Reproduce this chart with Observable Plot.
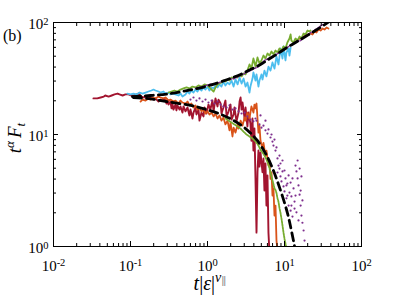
<!DOCTYPE html>
<html><head><meta charset="utf-8">
<script src="https://cdn.jsdelivr.net/npm/d3@7"></script>
<script src="https://cdn.jsdelivr.net/npm/@observablehq/plot@0.6"></script>
<style>body{margin:0;background:#fff;} svg{display:block} svg text{font-family:"Liberation Serif","DejaVu Serif",serif !important;}</style>
</head><body><div id="chart"></div>
<script>
// ---- data (x = t|eps|^nu, y = t^alpha F_t) ----
const redX = [0.033,0.037,0.041,0.045,0.047,0.052,0.057,0.062,0.068,0.072,0.079,0.086,0.094,0.103,0.109,0.120,0.127,0.139,0.148,0.161,0.171,0.182,0.199,0.211,0.231,0.245,0.261,0.276,0.294,0.303,0.312,0.330,0.341,0.351,0.361,0.384,0.395,0.407,0.433,0.446,0.473,0.488,0.518,0.550,0.583,0.601,0.638,0.658,0.698,0.719,0.764,0.787,0.836,0.887,0.914,0.970,1.03,1.09,1.16,1.20,1.27,1.35,1.39,1.48,1.52,1.61,1.71,1.77,1.88,1.99,2.05,2.18,2.24,2.38,2.53,2.61,2.69,2.77,2.85,3.03,3.12,3.30,3.41,3.61,3.72,3.84,3.95,4.07,4.20,4.33,4.46,4.59,4.73,4.88,5.18,5.33,5.49,5.66,5.83,6.01,6.19,6.38];
const redY = [21.0,21.0,21.4,21.8,22.3,21.8,22.3,22.8,23.2,22.8,22.3,22.8,22.8,22.3,22.3,22.8,23.2,21.8,21.4,21.8,21.0,21.4,20.5,21.0,19.7,20.5,20.1,21.0,18.9,20.5,18.5,19.7,17.1,18.9,16.7,18.5,16.4,18.2,16.7,17.8,15.7,17.8,16.1,17.4,14.8,16.7,13.9,15.7,17.4,15.1,16.7,13.3,15.7,14.5,17.4,15.4,18.5,16.7,20.1,16.1,21.0,17.8,20.5,18.9,15.4,17.4,20.1,14.5,16.1,18.5,13.6,15.1,17.4,13.1,15.7,19.7,21.4,16.7,19.3,13.9,17.4,11.8,15.7,12.5,8.8,13.9,7.19,11.3,4.01,1.33,4.6,7.19,5.17,6.9,4.6,6.11,3.16,5.51,2.32,4.31,1.33,0.88];

const orangeLowX = [0.135,0.143,0.157,0.171,0.182,0.193,0.211,0.231,0.245,0.268,0.285,0.312,0.330,0.361,0.384,0.420,0.446,0.473,0.518,0.550,0.583,0.619,0.658,0.698,0.741,0.787,0.836,0.887,0.942,1.0,1.06,1.13,1.20,1.27,1.35,1.43,1.52,1.61,1.71,1.82,1.93,1.99,2.11,2.18,2.31,2.46,2.53,2.69,2.85,3.03,3.12,3.30,3.51,3.72,3.95,4.07,4.20,4.33,4.46,4.59,4.73,4.88,5.18,5.33,5.66,5.83,6.19,6.38,6.58,6.78,6.98,7.19,7.41,7.64,7.87,8.11];
const orangeLowY = [19.7,20.5,20.1,21.0,20.5,21.4,21.0,21.8,21.4,21.0,21.4,20.1,20.5,19.7,20.1,18.9,20.1,19.3,18.9,19.7,18.2,18.9,17.4,18.2,16.7,17.4,16.1,16.7,15.4,16.1,15.1,15.7,14.5,15.4,13.9,14.8,13.3,14.2,12.3,13.3,10.9,12.8,9.6,11.5,10.4,12.3,11.3,13.3,12.0,14.2,13.3,15.7,13.9,17.8,15.7,18.5,17.1,18.9,13.9,10.4,12.0,8.8,7.5,8.4,6.49,7.19,5.28,5.86,4.01,4.6,2.85,3.3,1.89,2.32,1.13,0.92];
const orangeUpX = [14.3,15.7,17.1,18.75,20.5,21.8,23.1,24.5,26.0,27.6,29.4,31.2,33.1,35.1,37.2];
const orangeUpY = [69.0,72.0,73.5,76.6,78.2,79.8,78.2,83.1,81.5,86.6,84.8,88.4,86.6,90.2,88.4];

const cyanX = [0.091,0.100,0.109,0.120,0.131,0.143,0.157,0.171,0.187,0.199,0.211,0.231,0.245,0.268,0.285,0.312,0.330,0.351,0.384,0.420,0.446,0.473,0.518,0.550,0.583,0.619,0.658,0.698,0.741,0.787,0.836,0.887,0.942,1.0,1.06,1.13,1.20,1.27,1.35,1.43,1.52,1.61,1.71,1.82,1.93,2.05,2.18,2.31,2.46,2.61,2.77,2.94,3.12,3.30,3.51,3.61,3.84,3.95,4.20,4.33,4.59,4.73,5.02,5.18,5.49,5.83,6.19,6.58,6.98,7.41,7.87,8.36,8.87,9.42,9.71,10.3,10.6,11.3,11.6,12.0];
const cyanY = [23.2,22.8,23.2,22.8,23.7,23.2,23.7,24.2,24.7,25.2,24.7,24.2,23.7,24.2,23.2,23.7,22.8,23.2,22.8,22.3,23.2,21.8,22.8,24.2,23.2,24.7,23.7,25.2,24.2,25.8,24.7,26.3,25.2,26.8,24.7,26.3,25.8,27.4,26.3,28.0,26.8,29.7,27.4,29.1,28.0,30.3,26.8,31.0,28.0,32.3,28.5,31.6,26.8,29.1,23.7,26.8,31.6,35.8,30.3,34.4,26.8,30.3,34.4,31.0,37.2,33.0,40.4,37.2,44.0,38.8,49.7,42.2,58.6,47.7,61.1,45.8,54.0,58.6,50.7,59.8];

const greenUpX = [0.312,0.341,0.372,0.407,0.446,0.488,0.534,0.583,0.638,0.698,0.764,0.836,0.914,1.0,1.06,1.13,1.20,1.27,1.35,1.43,1.52,1.61,1.71,1.82,1.93,2.05,2.18,2.31,2.46,2.61,2.77,2.94,3.12,3.30,3.51,3.72,3.95,4.20,4.46,4.73,5.02,5.33,5.66,6.01,6.38,6.78,7.19,7.64,8.11,8.61,9.14,9.71,10.3,10.9,11.6,12.0,12.3,13.1,13.9,14.8,15.7,16.6,17.7,18.75,19.9,21.1,21.8];
const greenUpY = [23.7,24.2,24.7,24.2,25.2,25.8,26.3,25.8,26.8,26.3,27.4,26.8,28.0,27.4,26.3,25.2,24.2,26.3,28.0,28.5,29.1,30.3,29.7,31.0,30.3,32.3,31.6,33.0,32.3,33.7,33.0,35.1,34.4,37.2,42.2,38.8,47.7,40.4,48.7,43.1,45.8,50.7,47.7,52.9,50.7,55.1,52.0,56.2,54.0,58.6,56.2,61.1,58.6,66.3,72.0,78.2,69.0,66.3,72.0,69.0,75.0,72.0,79.8,78.2,84.8,83.1,84.8];
const greenLowX = [1.71,1.88,2.05,2.24,2.46,2.69,2.94,3.21,3.51,3.84,4.20,4.59,4.88,5.18,5.49,5.83,6.19,6.58,6.78,6.98,7.19,7.41,7.64,7.87,8.11,8.36,8.61,8.87,9.14,9.42,9.71,10.0,10.3,10.6];
const greenLowY = [13.9,13.3,12.8,12.3,11.8,11.3,10.6,10.0,9.6,9.2,8.7,8.0,7.3,6.9,6.5,6.0,5.4,4.6,4.2,3.9,3.6,3.3,3.2,3.0,2.7,2.5,2.2,2.0,1.77,1.54,1.33,1.17,1.06,0.97];

const purpleUpX = [0.698,0.862,1.06,1.31,1.56,1.88,2.24,2.69,3.21,3.84,4.59,5.49,6.58,7.87,9.42,11.3,13.5,16.2,19.3,23.1,27.6,31.2];
const purpleUpY = [25.8,26.8,28.0,28.5,29.7,31.0,31.6,33.7,35.8,38.0,40.4,45.8,48.7,52.0,56.2,61.1,66.3,69.0,76.6,83.1,90.2,96.0];
const purpleLowX = [0.601,0.658,0.719,0.787,0.862,0.942,1.03,1.13,1.23,1.35,1.48,1.61,1.77,1.93,2.11,2.31,2.53,2.77,3.03,3.30,3.61,3.95,4.33,4.73,5.02,5.33,5.66,6.01,6.19,6.58,6.78,6.98,7.19,7.41,7.64,7.87,8.11,8.36,8.11,8.61,8.87,9.14,9.42,9.71,8.87,10.0,10.3,10.6,10.9,11.3,11.6,12.0,12.3,12.7,13.1,13.5,13.9,14.3,14.8,14.8,15.2,15.7,16.2,16.2,16.6,17.1,17.1,17.7,18.2,11.3,12.0,12.7,13.5,14.3,15.2,10.6,10.0,9.42,8.61,15.7,16.6,13.9,12.3,10.9,4.88,5.66,4.20];
const purpleLowY = [20.5,21.4,20.1,21.0,19.7,20.5,19.3,20.1,18.9,19.7,18.5,17.8,17.4,18.2,16.7,17.1,16.1,15.4,15.7,14.5,13.6,13.1,13.3,12.3,11.5,12.0,10.9,10.2,11.1,9.4,10.0,8.65,7.97,9.0,7.19,7.66,6.11,5.28,4.58,4.96,4.22,3.81,4.68,3.44,5.51,3.10,4.05,2.69,3.65,2.32,3.03,2.09,2.80,1.85,3.30,2.52,5.28,4.68,5.86,4.05,3.51,2.90,2.32,3.16,1.89,1.63,2.58,1.39,1.13,4.31,3.72,4.05,2.18,2.02,1.71,3.51,4.77,5.86,6.49,4.96,4.22,2.85,2.32,2.85,14.8,13.3,13.9];

const fitUpX = [0.106,0.182,0.330,0.518,0.942,1.82,2.69,3.61,4.88,6.19,7.87,10.3,13.9,18.75,25.3,31.2,37.2];
const fitUpY = [21.8,22.3,23.2,24.5,26.8,31.0,34.4,38.0,42.2,46.8,51.9,58.6,66.3,75.0,84.8,93.0,101];
const fitLowX = [0.109,0.182,0.303,0.601,1.0,1.61,2.69,3.61,4.46,5.33,6.01,6.98,8.11,9.42,10.9,12.0,13.1,13.9];
const fitLowY = [21.4,20.8,19.6,18.2,16.6,14.8,12.2,10.3,8.8,7.3,6.3,5.0,3.8,2.8,2.0,1.5,1.12,0.90];

// ---- axis ticks ----
const xMajor = [0.01, 0.1, 1, 10, 100];
const yMajor = [1, 10, 100];
const minorMult = [2,3,4,5,6,7,8,9];
const xMinor = [0.01, 0.1, 1, 10].flatMap(d => minorMult.map(m => +(d*m).toPrecision(3)));
const yMinor = [1, 10].flatMap(d => minorMult.map(m => d*m));

const pts = (X, Y) => X.slice(0, Math.min(X.length, Y.length)).map((x, i) => ({x, y: Y[i]}));

const red = pts(redX, redY), orangeLow = pts(orangeLowX, orangeLowY), orangeUp = pts(orangeUpX, orangeUpY);
const cyan = pts(cyanX, cyanY), greenUp = pts(greenUpX, greenUpY), greenLow = pts(greenLowX, greenLowY);
const purpleUp = pts(purpleUpX, purpleUpY), purpleLow = pts(purpleLowX, purpleLowY);
const fitUp = pts(fitUpX, fitUpY), fitLow = pts(fitLowX, fitLowY);

const C = {red: "#A2142F", orange: "#D95319", green: "#77AC30", cyan: "#4DBEEE", purple: "#7E2F8E"};
const expFmt = d => "10^" + Math.round(Math.log10(d));
const blank = () => "";
const SERIF = "Liberation Serif, DejaVu Serif, serif";

const plot = Plot.plot({
  width: 399, height: 299,
  marginLeft: 53, marginRight: 38, marginTop: 22, marginBottom: 53,
  x: {type: "log", domain: [0.01, 100]},
  y: {type: "log", domain: [1, 100]},
  style: {fontFamily: SERIF, fontSize: "15px", color: "black", background: "white"},
  marks: [
    Plot.line(red, {x: "x", y: "y", stroke: C.red, strokeWidth: 1.9, clip: true}),
    Plot.line(orangeLow, {x: "x", y: "y", stroke: C.orange, strokeWidth: 1.8, clip: true}),
    Plot.line(orangeUp, {x: "x", y: "y", stroke: C.orange, strokeWidth: 1.8, clip: true}),
    Plot.line(cyan, {x: "x", y: "y", stroke: C.cyan, strokeWidth: 1.8, clip: true}),
    Plot.line(greenUp, {x: "x", y: "y", stroke: C.green, strokeWidth: 1.8, clip: true}),
    Plot.line(greenLow, {x: "x", y: "y", stroke: C.green, strokeWidth: 1.8, strokeDasharray: "2,1", clip: true}),
    Plot.line(purpleUp, {x: "x", y: "y", stroke: C.purple, strokeWidth: 1.5, strokeDasharray: "1.5,1.5", clip: true}),
    Plot.dot(purpleLow, {x: "x", y: "y", r: 1.1, fill: C.purple, stroke: null, clip: true}),
    Plot.line(fitUp, {x: "x", y: "y", stroke: "black", strokeWidth: 2.8, strokeDasharray: "8,5", curve: "natural", clip: true}),
    Plot.line(fitLow, {x: "x", y: "y", stroke: "black", strokeWidth: 2.8, strokeDasharray: "8,5", curve: "natural", clip: true}),
    Plot.frame({stroke: "black", strokeWidth: 1}),
    // inward ticks on all four sides
    Plot.axisX(xMajor, {anchor: "bottom", tickSize: -5, tickFormat: blank, label: null}),
    Plot.axisX(xMinor, {anchor: "bottom", tickSize: -3, tickFormat: blank, label: null}),
    Plot.axisX(xMajor, {anchor: "top", tickSize: -5, tickFormat: blank, label: null}),
    Plot.axisX(xMinor, {anchor: "top", tickSize: -3, tickFormat: blank, label: null}),
    Plot.axisY(yMajor, {anchor: "left", tickSize: -5, tickFormat: blank, label: null}),
    Plot.axisY(yMinor, {anchor: "left", tickSize: -3, tickFormat: blank, label: null}),
    Plot.axisY(yMajor, {anchor: "right", tickSize: -5, tickFormat: blank, label: null}),
    Plot.axisY(yMinor, {anchor: "right", tickSize: -3, tickFormat: blank, label: null}),
    // tick labels
    Plot.axisX(xMajor, {anchor: "bottom", tickSize: 0, tickPadding: 14, tickFormat: expFmt, fontSize: 15, fontFamily: SERIF, label: null}),
    Plot.axisY(yMajor, {anchor: "left", tickSize: 0, tickPadding: 5, dy: 2, tickFormat: expFmt, fontSize: 15, fontFamily: SERIF, label: null})
  ]
});

const svg = d3.select(plot);
// superscript exponents in tick labels
svg.selectAll("text").each(function() {
  const m = /^10\^(.+)$/.exec(this.textContent);
  if (!m) return;
  const s = d3.select(this);
  s.text(null);
  s.append("tspan").text("10");
  s.append("tspan").attr("dy", "-0.45em").attr("font-size", "0.7em").text(m[1]);
});
// panel tag
svg.append("text").attr("x", 3).attr("y", 41).attr("text-anchor", "start").attr("font-size", 16).attr("fill", "black").text("(b)");
// x label  t|ε|^{ν∥}
const xl = svg.append("text").attr("x", 210).attr("y", 290).attr("text-anchor", "middle").attr("font-size", 20).attr("fill", "black");
xl.append("tspan").attr("font-style", "italic").text("t");
xl.append("tspan").text("|");
xl.append("tspan").attr("font-style", "italic").text("ε");
xl.append("tspan").text("|");
xl.append("tspan").attr("font-style", "italic").attr("font-size", 14).attr("dy", -8).text("ν");
xl.append("tspan").attr("font-size", 11).attr("dy", 3).attr("fill", "#888").text("∥");
// y label  t^α F_t
const yl = svg.append("text").attr("transform", "translate(21,138) rotate(-90)").attr("text-anchor", "middle").attr("font-size", 19).attr("fill", "black");
yl.append("tspan").attr("font-style", "italic").text("t");
yl.append("tspan").attr("font-style", "italic").attr("font-size", 13).attr("dy", -7).text("α");
yl.append("tspan").attr("font-style", "italic").attr("dy", 7).attr("dx", 3).text("F");
yl.append("tspan").attr("font-style", "italic").attr("font-size", 13).attr("dy", 4).text("t");
svg.selectAll("text").attr("font-family", SERIF).style("font-family", SERIF);

document.getElementById("chart").appendChild(plot);
</script>
</body></html>
